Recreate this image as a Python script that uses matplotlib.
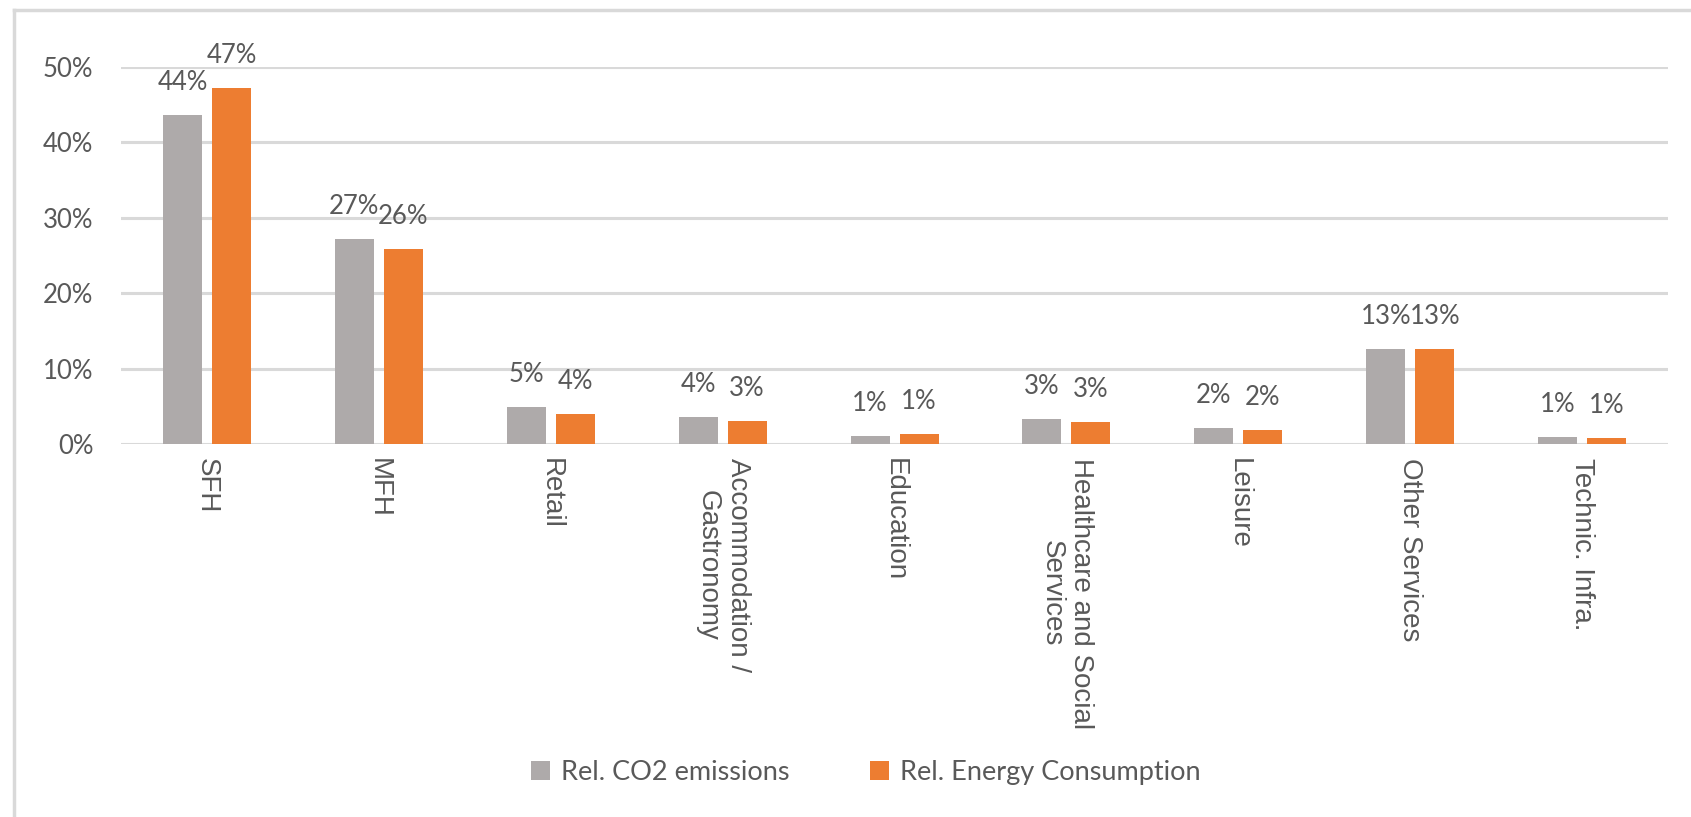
import numpy as np
import matplotlib
matplotlib.use("Agg")
import matplotlib.pyplot as plt
from matplotlib.lines import Line2D
from matplotlib.patches import Patch

plt.rcParams['font.family'] = ['Lato', 'DejaVu Sans']

#-- Data (percent)
categories = ["SFH", "MFH", "Retail", "Accommodation /\nGastronomy", "Education",
              "Healthcare and Social\nServices", "Leisure", "Other Services", "Technic. Infra."]
co2 = [43.6, 27.2, 4.85, 3.52, 1.06, 3.30, 2.07, 12.6, 0.97]
energy = [47.2, 25.9, 3.96, 3.08, 1.28, 2.86, 1.85, 12.55, 0.75]
series_names = ["Rel. CO2 emissions", "Rel. Energy Consumption"]
yticks = [0, 10, 20, 30, 40, 50]

#-- Styles
grey = '#AEAAAA'
orange = '#ED7D31'
txt = '#595959'
grid = '#D9D9D9'
fs = 18.5

fig = plt.figure(figsize=(16.91, 8.17), dpi=100)
ax = fig.add_axes([0.0716, 0.4565, 0.9148, 0.4615])

x = np.arange(len(categories))
w = 0.227
off = 0.1425
b1 = ax.bar(x - off, co2, w, color=grey)
b2 = ax.bar(x + off, energy, w, color=orange)

# data labels above bars
for bars, vals in ((b1, co2), (b2, energy)):
    for b, v in zip(bars, vals):
        ax.annotate(f"{round(v + 1e-9):d}%", (b.get_x() + b.get_width() / 2, v),
                    xytext=(0, 18), textcoords='offset points',
                    ha='center', va='baseline', fontsize=fs, color=txt,
                    annotation_clip=False)

ax.set_xlim(-0.5, len(categories) - 0.5)
ax.set_ylim(0, 50)
ax.set_yticks(yticks)
ax.set_yticklabels([f"{t}%" for t in yticks])
ax.set_xticks(x)
ax.set_xticklabels(categories, rotation=-90, ha='center', va='top',
                   multialignment='center', family='Liberation Sans', fontsize=20)
ax.tick_params(axis='both', length=0, labelcolor=txt)
ax.tick_params(axis='y', pad=20, labelsize=fs)
ax.tick_params(axis='x', pad=10)
ax.grid(axis='y', color=grid, linewidth=2.2)
ax.set_axisbelow(True)
for s in ax.spines.values():
    s.set_visible(False)

# legend
handles = [Patch(facecolor=grey), Patch(facecolor=orange)]
fig.legend(handles, series_names, loc='center', bbox_to_anchor=(0.512, 0.054),
           ncol=2, frameon=False, fontsize=19.5, labelcolor=txt,
           handlelength=0.7, handleheight=0.7, handletextpad=0.4,
           columnspacing=3.0)

# chart outer border (left and top only visible)
fig.add_artist(Line2D([0.0083, 0.0083], [0, 0.9875], color=grid, linewidth=2.5,
                      transform=fig.transFigure))
fig.add_artist(Line2D([0.0083, 1.0], [0.9875, 0.9875], color=grid, linewidth=2.5,
                      transform=fig.transFigure))

fig.savefig("out.png", dpi=100)
